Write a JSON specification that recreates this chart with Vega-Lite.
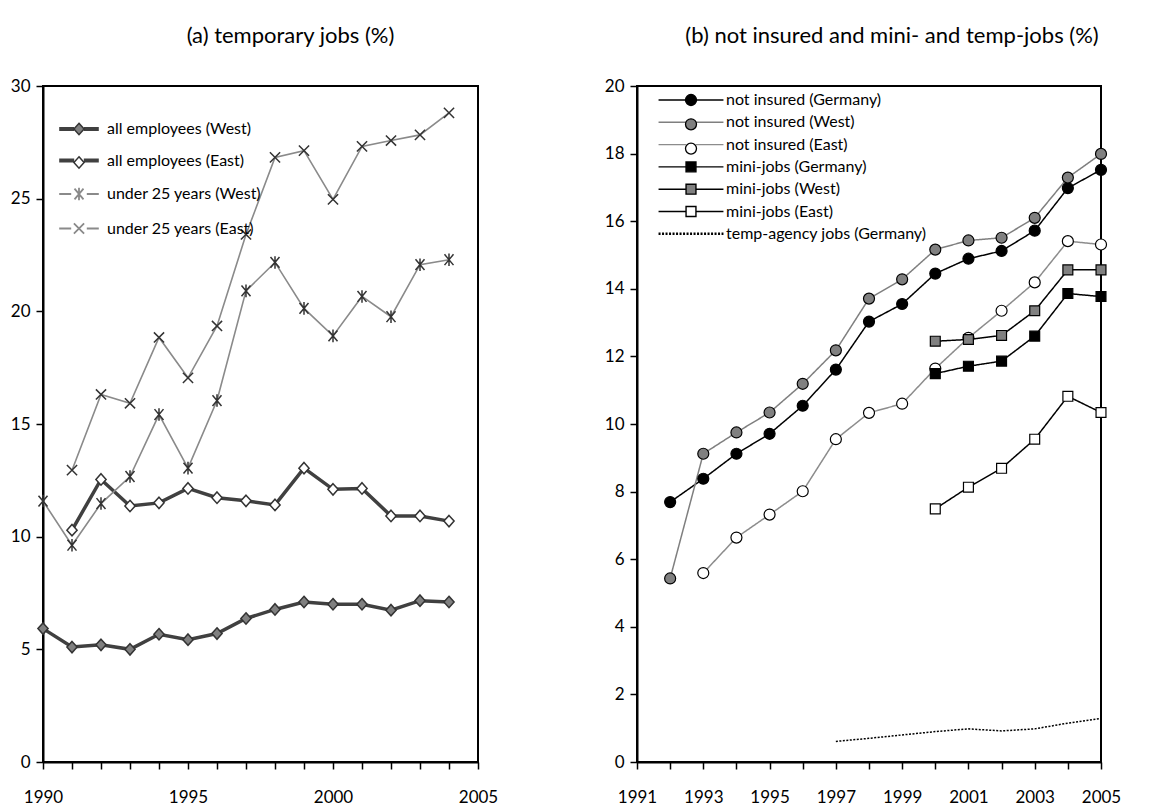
{
  "$schema": "https://vega.github.io/schema/vega-lite/v6.json",
  "padding": {"left": 9, "top": 24, "right": 12, "bottom": 3},
  "background": "white",
  "datasets": {
    "a": [
      {"series": "all employees (West)", "year": 1990, "value": 5.92},
      {"series": "all employees (West)", "year": 1991, "value": 5.1},
      {"series": "all employees (West)", "year": 1992, "value": 5.2},
      {"series": "all employees (West)", "year": 1993, "value": 5.0},
      {"series": "all employees (West)", "year": 1994, "value": 5.67},
      {"series": "all employees (West)", "year": 1995, "value": 5.43},
      {"series": "all employees (West)", "year": 1996, "value": 5.7},
      {"series": "all employees (West)", "year": 1997, "value": 6.37},
      {"series": "all employees (West)", "year": 1998, "value": 6.77},
      {"series": "all employees (West)", "year": 1999, "value": 7.1},
      {"series": "all employees (West)", "year": 2000, "value": 7.0},
      {"series": "all employees (West)", "year": 2001, "value": 7.0},
      {"series": "all employees (West)", "year": 2002, "value": 6.74},
      {"series": "all employees (West)", "year": 2003, "value": 7.16},
      {"series": "all employees (West)", "year": 2004, "value": 7.1},
      {"series": "all employees (East)", "year": 1991, "value": 10.29},
      {"series": "all employees (East)", "year": 1992, "value": 12.54},
      {"series": "all employees (East)", "year": 1993, "value": 11.36},
      {"series": "all employees (East)", "year": 1994, "value": 11.5},
      {"series": "all employees (East)", "year": 1995, "value": 12.14},
      {"series": "all employees (East)", "year": 1996, "value": 11.73},
      {"series": "all employees (East)", "year": 1997, "value": 11.59},
      {"series": "all employees (East)", "year": 1998, "value": 11.41},
      {"series": "all employees (East)", "year": 1999, "value": 13.04},
      {"series": "all employees (East)", "year": 2000, "value": 12.1},
      {"series": "all employees (East)", "year": 2001, "value": 12.14},
      {"series": "all employees (East)", "year": 2002, "value": 10.92},
      {"series": "all employees (East)", "year": 2003, "value": 10.92},
      {"series": "all employees (East)", "year": 2004, "value": 10.69},
      {"series": "under 25 years (West)", "year": 1990, "value": 11.58},
      {"series": "under 25 years (West)", "year": 1991, "value": 9.62},
      {"series": "under 25 years (West)", "year": 1992, "value": 11.47},
      {"series": "under 25 years (West)", "year": 1993, "value": 12.67},
      {"series": "under 25 years (West)", "year": 1994, "value": 15.42},
      {"series": "under 25 years (West)", "year": 1995, "value": 13.04},
      {"series": "under 25 years (West)", "year": 1996, "value": 16.04},
      {"series": "under 25 years (West)", "year": 1997, "value": 20.91},
      {"series": "under 25 years (West)", "year": 1998, "value": 22.17},
      {"series": "under 25 years (West)", "year": 1999, "value": 20.13},
      {"series": "under 25 years (West)", "year": 2000, "value": 18.91},
      {"series": "under 25 years (West)", "year": 2001, "value": 20.66},
      {"series": "under 25 years (West)", "year": 2002, "value": 19.76},
      {"series": "under 25 years (West)", "year": 2003, "value": 22.07},
      {"series": "under 25 years (West)", "year": 2004, "value": 22.29},
      {"series": "under 25 years (East)", "year": 1991, "value": 12.95},
      {"series": "under 25 years (East)", "year": 1992, "value": 16.31},
      {"series": "under 25 years (East)", "year": 1993, "value": 15.92},
      {"series": "under 25 years (East)", "year": 1994, "value": 18.84},
      {"series": "under 25 years (East)", "year": 1995, "value": 17.05},
      {"series": "under 25 years (East)", "year": 1996, "value": 19.35},
      {"series": "under 25 years (East)", "year": 1997, "value": 23.41},
      {"series": "under 25 years (East)", "year": 1998, "value": 26.83},
      {"series": "under 25 years (East)", "year": 1999, "value": 27.13},
      {"series": "under 25 years (East)", "year": 2000, "value": 24.97},
      {"series": "under 25 years (East)", "year": 2001, "value": 27.32},
      {"series": "under 25 years (East)", "year": 2002, "value": 27.58},
      {"series": "under 25 years (East)", "year": 2003, "value": 27.83},
      {"series": "under 25 years (East)", "year": 2004, "value": 28.81}
    ],
    "b": [
      {"series": "not insured (Germany)", "year": 1992, "value": 7.69},
      {"series": "not insured (Germany)", "year": 1993, "value": 8.38},
      {"series": "not insured (Germany)", "year": 1994, "value": 9.12},
      {"series": "not insured (Germany)", "year": 1995, "value": 9.71},
      {"series": "not insured (Germany)", "year": 1996, "value": 10.54},
      {"series": "not insured (Germany)", "year": 1997, "value": 11.61},
      {"series": "not insured (Germany)", "year": 1998, "value": 13.03},
      {"series": "not insured (Germany)", "year": 1999, "value": 13.55},
      {"series": "not insured (Germany)", "year": 2000, "value": 14.45},
      {"series": "not insured (Germany)", "year": 2001, "value": 14.89},
      {"series": "not insured (Germany)", "year": 2002, "value": 15.12},
      {"series": "not insured (Germany)", "year": 2003, "value": 15.72},
      {"series": "not insured (Germany)", "year": 2004, "value": 16.98},
      {"series": "not insured (Germany)", "year": 2005, "value": 17.52},
      {"series": "not insured (West)", "year": 1992, "value": 5.43},
      {"series": "not insured (West)", "year": 1993, "value": 9.12},
      {"series": "not insured (West)", "year": 1994, "value": 9.75},
      {"series": "not insured (West)", "year": 1995, "value": 10.34},
      {"series": "not insured (West)", "year": 1996, "value": 11.19},
      {"series": "not insured (West)", "year": 1997, "value": 12.18},
      {"series": "not insured (West)", "year": 1998, "value": 13.71},
      {"series": "not insured (West)", "year": 1999, "value": 14.28},
      {"series": "not insured (West)", "year": 2000, "value": 15.16},
      {"series": "not insured (West)", "year": 2001, "value": 15.43},
      {"series": "not insured (West)", "year": 2002, "value": 15.51},
      {"series": "not insured (West)", "year": 2003, "value": 16.1},
      {"series": "not insured (West)", "year": 2004, "value": 17.29},
      {"series": "not insured (West)", "year": 2005, "value": 17.99},
      {"series": "not insured (East)", "year": 1993, "value": 5.59},
      {"series": "not insured (East)", "year": 1994, "value": 6.64},
      {"series": "not insured (East)", "year": 1995, "value": 7.32},
      {"series": "not insured (East)", "year": 1996, "value": 8.01},
      {"series": "not insured (East)", "year": 1997, "value": 9.55},
      {"series": "not insured (East)", "year": 1998, "value": 10.33},
      {"series": "not insured (East)", "year": 1999, "value": 10.6},
      {"series": "not insured (East)", "year": 2000, "value": 11.64},
      {"series": "not insured (East)", "year": 2001, "value": 12.55},
      {"series": "not insured (East)", "year": 2002, "value": 13.35},
      {"series": "not insured (East)", "year": 2003, "value": 14.19},
      {"series": "not insured (East)", "year": 2004, "value": 15.41},
      {"series": "not insured (East)", "year": 2005, "value": 15.31},
      {"series": "mini-jobs (Germany)", "year": 2000, "value": 11.49},
      {"series": "mini-jobs (Germany)", "year": 2001, "value": 11.71},
      {"series": "mini-jobs (Germany)", "year": 2002, "value": 11.86},
      {"series": "mini-jobs (Germany)", "year": 2003, "value": 12.6},
      {"series": "mini-jobs (Germany)", "year": 2004, "value": 13.86},
      {"series": "mini-jobs (Germany)", "year": 2005, "value": 13.77},
      {"series": "mini-jobs (West)", "year": 2000, "value": 12.45},
      {"series": "mini-jobs (West)", "year": 2001, "value": 12.5},
      {"series": "mini-jobs (West)", "year": 2002, "value": 12.62},
      {"series": "mini-jobs (West)", "year": 2003, "value": 13.35},
      {"series": "mini-jobs (West)", "year": 2004, "value": 14.56},
      {"series": "mini-jobs (West)", "year": 2005, "value": 14.56},
      {"series": "mini-jobs (East)", "year": 2000, "value": 7.49},
      {"series": "mini-jobs (East)", "year": 2001, "value": 8.13},
      {"series": "mini-jobs (East)", "year": 2002, "value": 8.69},
      {"series": "mini-jobs (East)", "year": 2003, "value": 9.55},
      {"series": "mini-jobs (East)", "year": 2004, "value": 10.82},
      {"series": "mini-jobs (East)", "year": 2005, "value": 10.34},
      {"series": "temp-agency jobs (Germany)", "year": 1997, "value": 0.61},
      {"series": "temp-agency jobs (Germany)", "year": 1998, "value": 0.7},
      {"series": "temp-agency jobs (Germany)", "year": 1999, "value": 0.8},
      {"series": "temp-agency jobs (Germany)", "year": 2000, "value": 0.9},
      {"series": "temp-agency jobs (Germany)", "year": 2001, "value": 0.98},
      {"series": "temp-agency jobs (Germany)", "year": 2002, "value": 0.92},
      {"series": "temp-agency jobs (Germany)", "year": 2003, "value": 0.98},
      {"series": "temp-agency jobs (Germany)", "year": 2004, "value": 1.15},
      {"series": "temp-agency jobs (Germany)", "year": 2005, "value": 1.29}
    ]
  },
  "spacing": 104,
  "resolve": {
    "scale": {"x": "independent", "y": "independent", "stroke": "independent", "fill": "independent", "shape": "independent", "color": "independent", "strokeWidth": "independent", "strokeDash": "independent"},
    "legend": {"stroke": "independent", "color": "independent", "shape": "independent"}
  },
  "hconcat": [
    {
      "width": 435,
      "height": 676,
      "title": {"text": "(a)  temporary jobs (%)", "dx": 30, "offset": 29},
      "data": {"name": "a"},
      "view": {"stroke": "black", "strokeWidth": 2},
      "encoding": {
        "x": {"field": "year", "type": "quantitative", "scale": {"domain": [1990, 2005], "nice": false, "zero": false},
          "axis": {"title": null, "values": [1990, 1991, 1992, 1993, 1994, 1995, 1996, 1997, 1998, 1999, 2000, 2001, 2002, 2003, 2004, 2005], "format": "d", "labelExpr": "datum.value % 5 === 0 ? datum.label : ''", "labelPadding": 20, "labelFlush": false, "labelOverlap": false, "labelSeparation": -100}},
        "y": {"field": "value", "type": "quantitative", "scale": {"domain": [0, 30], "nice": false},
          "axis": {"title": null, "values": [0, 5, 10, 15, 20, 25, 30], "labelPadding": 6, "labelOverlap": false}}
      },
      "layer": [
        {
          "mark": {"type": "line", "clip": false},
          "encoding": {
            "stroke": {"field": "series", "type": "nominal",
              "sort": ["all employees (West)", "all employees (East)", "under 25 years (West)", "under 25 years (East)"],
              "scale": {"range": ["#404040", "#404040", "#8a8a8a", "#8a8a8a"]},
              "legend": {"orient": "none", "legendX": 28, "legendY": 35, "title": null, "padding": 0, "symbolSize": 144, "symbolStrokeWidth": 1.5, "rowPadding": 15.5, "labelOffset": 20, "labelFontSize": 16,
                "encode": {"symbols": {"update": {
                  "shape": {"signal": "datum.value === 'under 25 years (West)' ? 'M-3.3,0H-1.3M1.3,0H3.3M-0.75,-0.9L0.75,0.9M-0.75,0.9L0.75,-0.9M0,-1.05L0,1.05' : (datum.value === 'under 25 years (East)' ? 'M-3.3,0H-1.3M1.3,0H3.3M-0.85,-0.85L0.85,0.85M-0.85,0.85L0.85,-0.85' : 'M-3.3,0H-0.8M0.8,0H3.3')"},
                  "strokeWidth": {"signal": "indexof(['all employees (West)','all employees (East)'], datum.value) >= 0 ? 4 : 1.8"},
                  "fill": {"value": "transparent"}
                }}}}
            },
            "strokeWidth": {"condition": {"test": "indexof(['all employees (West)','all employees (East)'], datum.series) >= 0", "value": 3.5}, "value": 1.6}
          }
        },
        {
          "mark": {"type": "point", "filled": true, "stroke": "#333333", "strokeWidth": 1.5, "size": 144, "opacity": 1, "clip": false},
          "encoding": {
            "shape": {"field": "series", "type": "nominal",
              "scale": {"domain": ["all employees (West)", "all employees (East)", "under 25 years (West)", "under 25 years (East)"], "range": ["M0,-0.95L0.85,0L0,0.95L-0.85,0Z", "M0,-0.95L0.85,0L0,0.95L-0.85,0Z", "M-0.75,-0.9L0.75,0.9M-0.75,0.9L0.75,-0.9M0,-1.05L0,1.05", "M-0.85,-0.85L0.85,0.85M-0.85,0.85L0.85,-0.85"]},
              "legend": {"orient": "none", "legendX": 28, "legendY": 35, "title": null, "padding": 0, "symbolSize": 144, "symbolStrokeWidth": 1.5, "symbolStrokeColor": "#333333", "rowPadding": 15.5, "labelOffset": 20, "labelFontSize": 16, "labelOpacity": 0,
                "values": ["all employees (West)", "all employees (East)"]}},
            "color": {"field": "series", "type": "nominal",
              "scale": {"domain": ["all employees (West)", "all employees (East)", "under 25 years (West)", "under 25 years (East)"], "range": ["#808080", "#ffffff", "#ffffff", "#ffffff"]},
              "legend": {"orient": "none", "legendX": 28, "legendY": 35, "title": null, "padding": 0, "symbolSize": 144, "symbolStrokeWidth": 1.5, "symbolStrokeColor": "#333333", "rowPadding": 15.5, "labelOffset": 20, "labelFontSize": 16, "labelOpacity": 0,
                "values": ["all employees (West)", "all employees (East)"]}}
          }
        }
      ]
    },
    {
      "width": 464,
      "height": 676,
      "title": {"text": "(b) not insured and mini- and temp-jobs (%)", "dx": 23, "offset": 29},
      "data": {"name": "b"},
      "view": {"stroke": "black", "strokeWidth": 2},
      "encoding": {
        "x": {"field": "year", "type": "quantitative", "scale": {"domain": [1991, 2005], "nice": false, "zero": false},
          "axis": {"title": null, "values": [1991, 1992, 1993, 1994, 1995, 1996, 1997, 1998, 1999, 2000, 2001, 2002, 2003, 2004, 2005], "format": "d", "labelExpr": "datum.value % 2 === 1 ? datum.label : ''", "labelPadding": 20, "labelFlush": false, "labelOverlap": false, "labelSeparation": -100}},
        "y": {"field": "value", "type": "quantitative", "scale": {"domain": [0, 20], "nice": false},
          "axis": {"title": null, "values": [0, 2, 4, 6, 8, 10, 12, 14, 16, 18, 20], "labelPadding": 6, "labelOverlap": false}}
      },
      "layer": [
        {
          "mark": {"type": "line", "clip": false},
          "encoding": {
            "stroke": {"field": "series", "type": "nominal",
              "sort": ["not insured (Germany)", "not insured (West)", "not insured (East)", "mini-jobs (Germany)", "mini-jobs (West)", "mini-jobs (East)", "temp-agency jobs (Germany)"],
              "scale": {"range": ["#000000", "#7f7f7f", "#8c8c8c", "#000000", "#000000", "#000000", "#000000"]},
              "legend": {"orient": "none", "legendX": 46, "legendY": 6, "title": null, "padding": 0, "symbolSize": 121, "symbolStrokeWidth": 1.3, "rowPadding": 6.3, "labelOffset": 27, "labelFontSize": 16,
                "encode": {"symbols": {"update": {
                  "shape": {"signal": "datum.value === 'temp-agency jobs (Germany)' ? 'M-5.9,0H5.9' : (indexof(['mini-jobs (Germany)','mini-jobs (West)','mini-jobs (East)'], datum.value) >= 0 ? 'M-5.9,0H-0.9M0.9,0H5.9M-0.9,-0.9H0.9V0.9H-0.9Z' : 'M-5.9,0H-0.9M0.9,0H5.9')"},
                  "strokeWidth": {"signal": "datum.value === 'temp-agency jobs (Germany)' ? 2.6 : 1.4"},
                  "strokeDash": {"signal": "datum.value === 'temp-agency jobs (Germany)' ? [2, 1.5] : [1, 0]"},
                  "fill": {"signal": "datum.value === 'mini-jobs (Germany)' ? '#000000' : (datum.value === 'mini-jobs (West)' ? '#808080' : (datum.value === 'mini-jobs (East)' ? '#ffffff' : 'transparent'))"}
                }}}}
            },
            "strokeWidth": {"value": 1.5},
            "strokeDash": {"condition": {"test": "datum.series === 'temp-agency jobs (Germany)'", "value": [2, 1.5]}, "value": [1, 0]}
          }
        },
        {
          "transform": [{"filter": "datum.series !== 'temp-agency jobs (Germany)'"}],
          "mark": {"type": "point", "filled": true, "stroke": "#000000", "strokeWidth": 1.2, "size": 121, "opacity": 1, "clip": false},
          "encoding": {
            "shape": {"field": "series", "type": "nominal",
              "scale": {"domain": ["not insured (Germany)", "not insured (West)", "not insured (East)", "mini-jobs (Germany)", "mini-jobs (West)", "mini-jobs (East)"], "range": ["circle", "circle", "circle", "M-0.9,-0.9H0.9V0.9H-0.9Z", "M-0.9,-0.9H0.9V0.9H-0.9Z", "M-0.9,-0.9H0.9V0.9H-0.9Z"]},
              "legend": {"orient": "none", "legendX": 46, "legendY": 6, "title": null, "padding": 0, "symbolSize": 121, "symbolStrokeWidth": 1.3, "symbolStrokeColor": "#000000", "rowPadding": 6.3, "labelOffset": 27, "labelFontSize": 16, "labelOpacity": 0,
                "values": ["not insured (Germany)", "not insured (West)", "not insured (East)"]}},
            "color": {"field": "series", "type": "nominal",
              "scale": {"domain": ["not insured (Germany)", "not insured (West)", "not insured (East)", "mini-jobs (Germany)", "mini-jobs (West)", "mini-jobs (East)"], "range": ["#000000", "#808080", "#ffffff", "#000000", "#808080", "#ffffff"]},
              "legend": {"orient": "none", "legendX": 46, "legendY": 6, "title": null, "padding": 0, "symbolSize": 121, "symbolStrokeWidth": 1.3, "symbolStrokeColor": "#000000", "rowPadding": 6.3, "labelOffset": 27, "labelFontSize": 16, "labelOpacity": 0,
                "values": ["not insured (Germany)", "not insured (West)", "not insured (East)"]}}
          }
        }
      ]
    }
  ],
  "config": {
    "font": "Lato",
    "title": {"font": "Lato", "fontSize": 22, "fontWeight": "normal", "color": "black", "anchor": "middle"},
    "axis": {"grid": false, "domainColor": "black", "domainWidth": 2, "tickColor": "black", "tickWidth": 1.5, "tickSize": 7, "labelColor": "black", "labelFont": "Lato", "labelFontSize": 17},
    "legend": {"labelFont": "Lato", "labelColor": "black", "labelLimit": 400}
  }
}
